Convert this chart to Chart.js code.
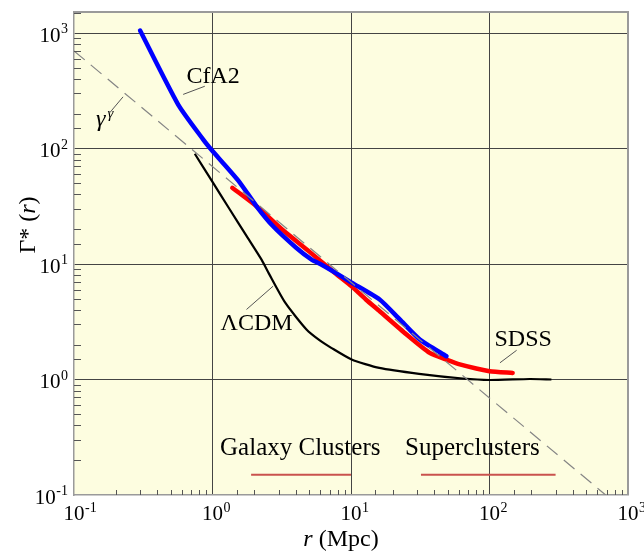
<!DOCTYPE html>
<html>
<head>
<meta charset="utf-8">
<title>Γ*(r)</title>
<script src="https://cdn.jsdelivr.net/npm/chart.js@4/dist/chart.umd.min.js"></script>
<style>
  html, body { margin: 0; padding: 0; background: #fff; }
</style>
</head>
<body>
<canvas id="gammaChart" width="644" height="553"></canvas>
<script>
// Conditional density Γ*(r) against separation r (Mpc)
const cfa2R = [0.3, 0.565, 0.855, 1.0, 1.19, 1.57, 2.08, 2.74, 4.0, 5.2, 6.0, 7.0, 10.1, 16.1, 22.5, 31.4, 48.9];
const cfa2G = [1050, 240, 120, 95, 75, 51, 31.6, 21.2, 13.9, 10.9, 10.0, 9.0, 6.9, 4.93, 3.31, 2.22, 1.59];

const sdssR = [1.39, 2.08, 3.2, 5.0, 7.7, 10.1, 12.8, 16.1, 25.2, 37, 48.6, 61, 100, 147];
const sdssG = [45.7, 31.6, 19.8, 12.8, 8.3, 6.4, 4.93, 3.9, 2.45, 1.70, 1.49, 1.35, 1.18, 1.14];

const lcdmR = [0.745, 1.0, 1.33, 1.76, 2.26, 2.55, 3.36, 4.77, 5.95, 7.2, 10.1, 16, 31, 64, 100, 195, 280];
const lcdmG = [90, 51.4, 29.8, 17.5, 10.9, 8.3, 4.6, 2.71, 2.18, 1.88, 1.49, 1.26, 1.12, 1.02, 0.99, 1.01, 1.0];

// power-law reference line (end points)
const powerR = [0.1, 690];
const powerG = [700, 0.1];

// scale ranges marked under the curves
const galaxyClusterR = [1.9, 10];
const superclusterR = [32, 300];
const rangeLevel = 0.15;

const xRange = [0.1, 1000];
const yRange = [0.1, 1520];

const SERIF = "'Liberation Serif', 'Times New Roman', Times, serif";

function pts(xs, ys) {
  return xs.map((x, i) => ({ x: x, y: ys[i] }));
}

function isDecade(v) {
  const l = Math.log10(v);
  return Math.abs(l - Math.round(l)) < 1e-6;
}

// labels with their leader lines, placed in data units
const notes = [
  { text: 'CfA2', x: 1.01, y: 416, from: [0.614, 294], to: [0.88, 346] },
  { text: 'ΛCDM', x: 2.08, y: 3.05, from: [1.76, 4.04], to: [2.74, 6.43] },
  { text: 'SDSS', x: 175, y: 2.19, from: [119, 1.395], to: [157, 1.79] },
  { text: 'Galaxy Clusters', x: 4.3, y: 0.253 },
  { text: 'Superclusters', x: 75.2, y: 0.253 }
];
const gammaNote = { x: 0.144, y: 171, from: [0.181, 204], to: [0.226, 280] };

const plotBackground = {
  id: 'plotBackground',
  beforeDraw(chart) {
    const { ctx, chartArea: a } = chart;
    ctx.save();
    ctx.fillStyle = '#fdfde0';
    ctx.fillRect(a.left, a.top, a.right - a.left, a.bottom - a.top);
    ctx.restore();
  }
};

const axisDecor = {
  id: 'axisDecor',
  afterDraw(chart) {
    const { ctx, chartArea: a } = chart;
    const xs = chart.scales.x, ys = chart.scales.y;
    ctx.save();

    // frame on the top and right
    ctx.strokeStyle = '#9a9a9a';
    ctx.lineWidth = 2;
    ctx.beginPath();
    ctx.moveTo(a.left, a.top);
    ctx.lineTo(a.right, a.top);
    ctx.lineTo(a.right, a.bottom);
    ctx.stroke();

    // inward minor ticks
    ctx.strokeStyle = '#555';
    ctx.lineWidth = 1;
    ctx.beginPath();
    ys.ticks.forEach(t => {
      if (isDecade(t.value) || t.value >= yRange[1]) return;
      const py = Math.round(ys.getPixelForValue(t.value)) + 0.5;
      ctx.moveTo(a.left, py);
      ctx.lineTo(a.left + 7, py);
    });
    xs.ticks.forEach(t => {
      if (isDecade(t.value)) return;
      const px = Math.round(xs.getPixelForValue(t.value)) + 0.5;
      ctx.moveTo(px, a.bottom);
      ctx.lineTo(px, a.bottom - 5);
    });
    ctx.stroke();

    // decade labels 10^n
    ctx.fillStyle = '#000';
    ctx.textBaseline = 'alphabetic';
    const base = '21px ' + SERIF, sup = '14px ' + SERIF;
    xs.ticks.forEach(t => {
      if (!isDecade(t.value)) return;
      const e = String(Math.round(Math.log10(t.value)));
      const px = xs.getPixelForValue(t.value);
      ctx.font = base;
      const w = ctx.measureText('10').width;
      ctx.textAlign = 'left';
      ctx.fillText('10', px - w / 2, a.bottom + 25);
      ctx.font = sup;
      ctx.fillText(e, px + w / 2 + 0.5, a.bottom + 17);
    });
    ys.ticks.forEach(t => {
      if (!isDecade(t.value)) return;
      const e = String(Math.round(Math.log10(t.value)));
      const py = ys.getPixelForValue(t.value);
      const right = a.left - 6;
      ctx.font = sup;
      const ws = ctx.measureText(e).width;
      ctx.textAlign = 'right';
      ctx.fillText(e, right, py);
      ctx.font = base;
      ctx.fillText('10', right - ws - 0.5, py + 8.5);
    });

    // axis titles
    ctx.textAlign = 'left';
    const tx1 = 'r', tx2 = ' (Mpc)';
    ctx.font = 'italic 24px ' + SERIF;
    const w1 = ctx.measureText(tx1).width;
    ctx.font = '24px ' + SERIF;
    const w2 = ctx.measureText(tx2).width;
    const sx = (a.left + a.right) / 2 - (w1 + w2) / 2 - 10;
    ctx.font = 'italic 24px ' + SERIF;
    ctx.fillText(tx1, sx, 546);
    ctx.font = '24px ' + SERIF;
    ctx.fillText(tx2, sx + w1, 546);

    ctx.save();
    ctx.translate(35, 225);
    ctx.rotate(-Math.PI / 2);
    const ta = 'Γ* (', tb = 'r', tc = ')';
    ctx.font = '24px ' + SERIF;
    const wa = ctx.measureText(ta).width, wc = ctx.measureText(tc).width;
    ctx.font = 'italic 24px ' + SERIF;
    const wb = ctx.measureText(tb).width;
    const ox = -(wa + wb + wc) / 2;
    ctx.font = '24px ' + SERIF;
    ctx.fillText(ta, ox, 0);
    ctx.font = 'italic 24px ' + SERIF;
    ctx.fillText(tb, ox + wa, 0);
    ctx.font = '24px ' + SERIF;
    ctx.fillText(tc, ox + wa + wb, 0);
    ctx.restore();

    // curve labels and leader lines
    ctx.strokeStyle = '#555';
    ctx.lineWidth = 1;
    const leader = (f, t) => {
      ctx.beginPath();
      ctx.moveTo(xs.getPixelForValue(f[0]), ys.getPixelForValue(f[1]));
      ctx.lineTo(xs.getPixelForValue(t[0]), ys.getPixelForValue(t[1]));
      ctx.stroke();
    };
    ctx.textAlign = 'center';
    ctx.textBaseline = 'middle';
    notes.forEach(n => {
      ctx.font = (n.from ? '24px ' : '25px ') + SERIF;
      ctx.fillText(n.text, xs.getPixelForValue(n.x), ys.getPixelForValue(n.y));
      if (n.from) leader(n.from, n.to);
    });

    const gx = xs.getPixelForValue(gammaNote.x), gy = ys.getPixelForValue(gammaNote.y);
    ctx.textAlign = 'left';
    ctx.textBaseline = 'alphabetic';
    ctx.font = 'italic 24px ' + SERIF;
    ctx.fillText('γ', gx, gy + 4);
    const gw = ctx.measureText('γ').width;
    ctx.font = 'italic 15px ' + SERIF;
    ctx.fillText('γ', gx + gw + 2, gy - 4);
    leader(gammaNote.from, gammaNote.to);

    ctx.restore();
  }
};

const lineStyle = { pointRadius: 0, fill: false, tension: 0.2 };

new Chart(document.getElementById('gammaChart').getContext('2d'), {
  type: 'line',
  data: {
    datasets: [
      Object.assign({ label: 'power law', data: pts(powerR, powerG), borderColor: '#858585', borderWidth: 1.2, borderDash: [14, 8] }, lineStyle),
      Object.assign({ label: 'ΛCDM', data: pts(lcdmR, lcdmG), borderColor: '#000', borderWidth: 2.2 }, lineStyle),
      Object.assign({ label: 'CfA2', data: pts(cfa2R, cfa2G), borderColor: '#0000ff', borderWidth: 4.5, borderCapStyle: 'round' }, lineStyle),
      Object.assign({ label: 'SDSS', data: pts(sdssR, sdssG), borderColor: '#ff0000', borderWidth: 4.5, borderCapStyle: 'round' }, lineStyle),
      Object.assign({ label: 'Galaxy Clusters', data: pts(galaxyClusterR, [rangeLevel, rangeLevel]), borderColor: '#c9524e', borderWidth: 2 }, lineStyle),
      Object.assign({ label: 'Superclusters', data: pts(superclusterR, [rangeLevel, rangeLevel]), borderColor: '#c9524e', borderWidth: 2 }, lineStyle)
    ]
  },
  options: {
    responsive: false,
    animation: false,
    layout: { padding: { top: 12, right: 16, left: 0, bottom: 0 } },
    plugins: { legend: { display: false }, tooltip: { enabled: false } },
    scales: {
      x: {
        type: 'logarithmic',
        min: xRange[0],
        max: xRange[1],
        ticks: { display: false, autoSkip: false },
        grid: {
          drawTicks: false,
          color: ctx => (isDecade(ctx.tick.value) && ctx.tick.value > xRange[0] && ctx.tick.value < xRange[1]) ? '#444' : 'rgba(0,0,0,0)',
          lineWidth: 1
        },
        border: { display: true, color: '#9a9a9a', width: 1.5 },
        afterFit: scale => { scale.height = 58; }
      },
      y: {
        type: 'logarithmic',
        min: yRange[0],
        max: yRange[1],
        ticks: { display: false, autoSkip: false },
        grid: {
          drawTicks: false,
          color: ctx => (isDecade(ctx.tick.value) && ctx.tick.value > yRange[0] && ctx.tick.value < yRange[1]) ? '#444' : 'rgba(0,0,0,0)',
          lineWidth: 1
        },
        border: { display: true, color: '#9a9a9a', width: 1.5 },
        afterFit: scale => { scale.width = 74; }
      }
    }
  },
  plugins: [plotBackground, axisDecor]
});
</script>
</body>
</html>
